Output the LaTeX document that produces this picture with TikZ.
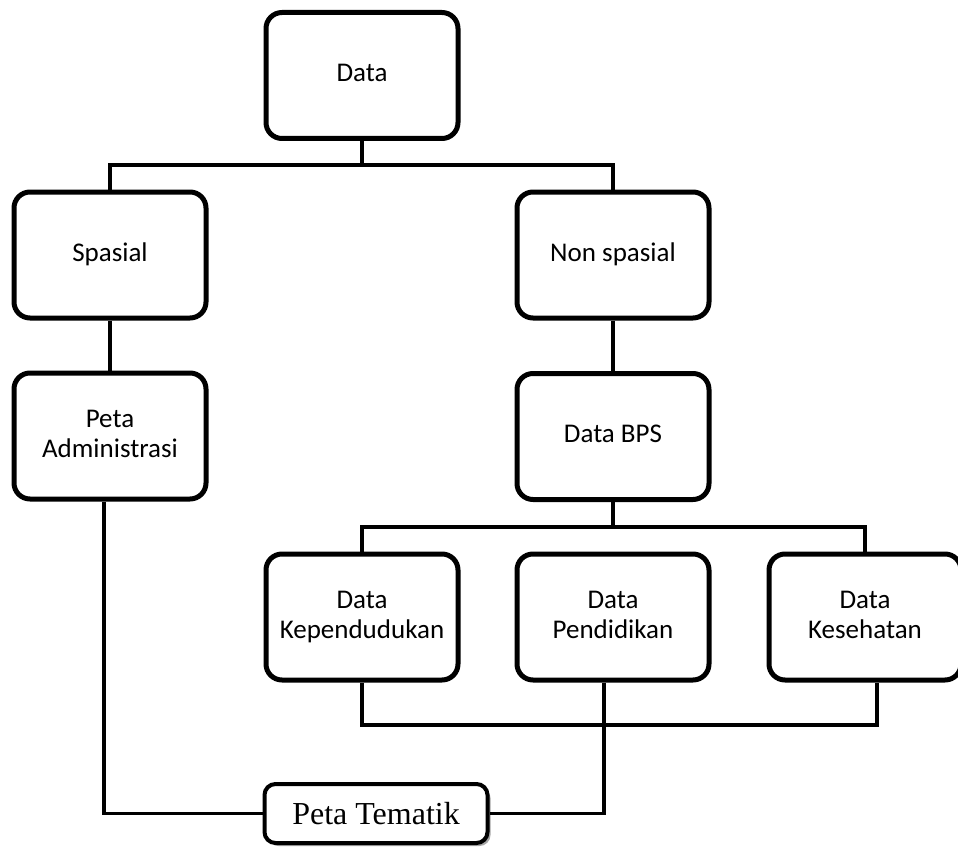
\documentclass[tikz,border=0pt]{standalone}
\usepackage{fontspec}
\setmainfont{Carlito}
\newfontfamily\timesf{Liberation Serif}
\usetikzlibrary{shadows}
\begin{document}
\begin{tikzpicture}[x=1pt,y=-1pt,
  box/.style={draw=black, fill=white, line width=5pt, rounded corners=16pt,
    minimum width=192pt, minimum height=126pt, align=center, inner sep=0pt,
    font=\fontsize{27}{30}\selectfont},
  tembox/.style={draw=black, fill=white, line width=4pt, rounded corners=11pt,
    minimum width=223pt, minimum height=59pt, inner sep=0pt,
    font=\timesf\fontsize{32}{38}\selectfont,
    drop shadow={shadow xshift=3pt, shadow yshift=-3pt, fill=black!35, opacity=1}},
  conn/.style={draw=black, line width=4.5pt},
  connlow/.style={draw=black, line width=3.8pt}
]
\useasboundingbox (0,0) rectangle (958,848);
\fill[white] (0,0) rectangle (958,848);

\coordinate (bus1) at (362,165);
\coordinate (bus2) at (613,527);
\coordinate (bus3) at (613,725);

\node[box] (data) at (362,75.5) {Data\strut};
\node[box] (spasial) at (110,255) {Spasial\strut};
\node[box] (nonspasial) at (613,255) {Non spasial\strut};
\node[box] (petaadm) at (110,436) {Peta\strut\\Administrasi\strut};
\node[box] (databps) at (613,436.5) {Data BPS\strut};
\node[box] (kepend) at (362,617) {Data\strut\\Kependudukan\strut};
\node[box] (pendidikan) at (613,617) {Data\strut\\Pendidikan\strut};
\node[box] (kesehatan) at (865,617) {Data\strut\\Kesehatan\strut};
\node[tembox] (tematik) at (376,813.5) {Peta Tematik};

\draw[conn] (data.south) -- (bus1);
\draw[conn] (spasial.north) |- (bus1) -| (nonspasial.north);
\draw[conn] (spasial.south) -- (petaadm.north);
\draw[conn] (nonspasial.south) -- (databps.north);
\draw[conn] (databps.south) -- (bus2);
\draw[conn] (kepend.north) |- (bus2) -| (kesehatan.north);
\draw[connlow] (kepend.south) |- (bus3) -| ([xshift=12pt]kesehatan.south);
\draw[connlow] ([xshift=-9pt]pendidikan.south) |- (tematik.east);
\draw[connlow] ([xshift=-6pt]petaadm.south) |- (tematik.west);
\end{tikzpicture}
\end{document}
